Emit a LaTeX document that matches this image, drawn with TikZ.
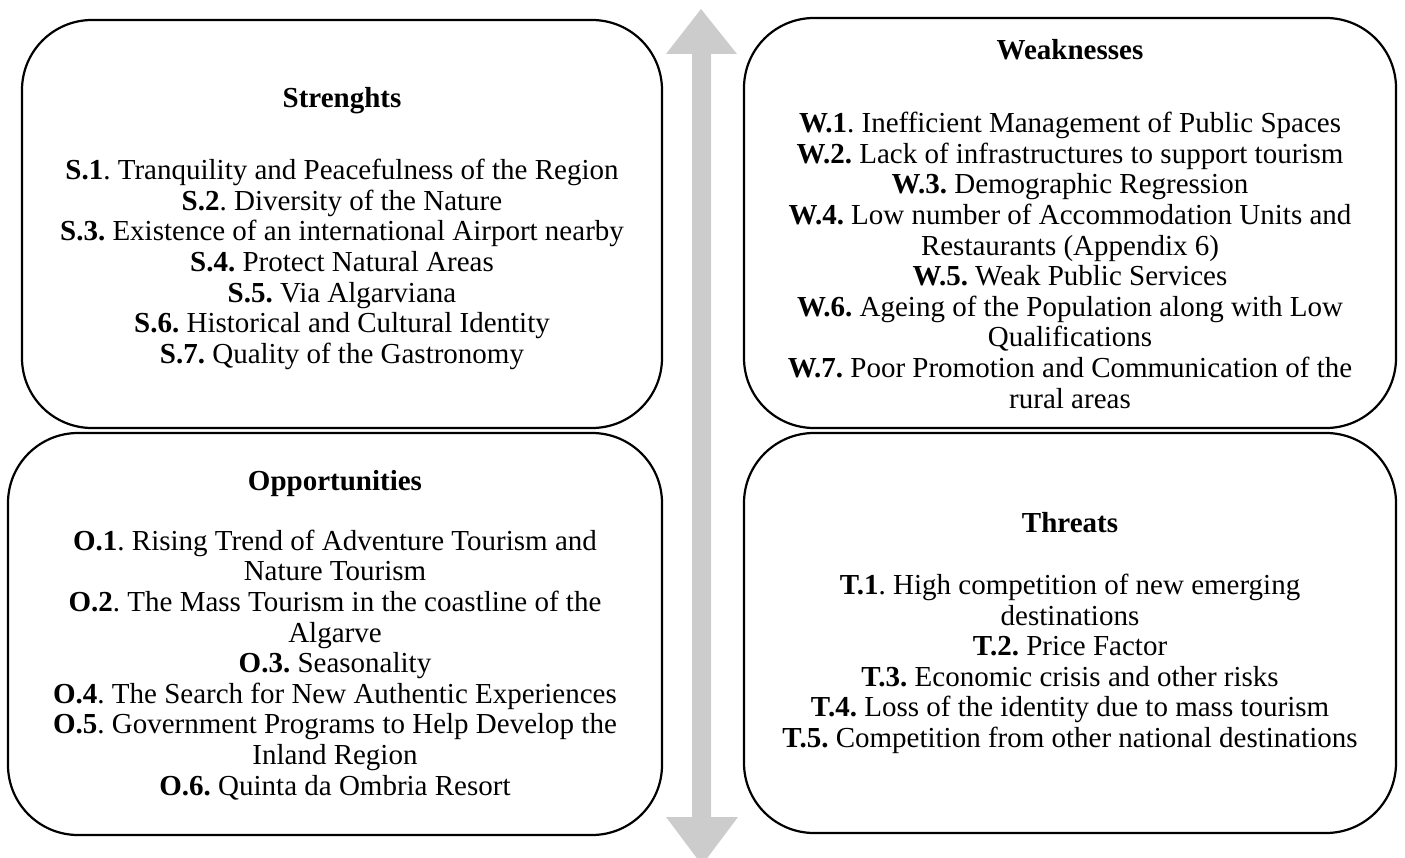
\documentclass[tikz,border=0pt]{standalone}
\usepackage{fontspec}
\setmainfont{Liberation Serif}
\definecolor{axisgray}{RGB}{204,204,204}
\tikzset{
  swot/.style={draw, line width=2.2pt, rounded corners=70pt, inner sep=0pt},
  swottext/.style={align=center, inner sep=0pt, font=\fontsize{29}{30.6}\selectfont\frenchspacing},
}
\begin{document}
\begin{tikzpicture}[x=1pt,y=-1pt]
        \clip (0,0) rectangle (1405,858);
        %% Axis
        \fill[axisgray] (701,9) -- (737,54) -- (711,54) -- (711,817) -- (738,817)
          -- (702,865) -- (666,817) -- (692,817) -- (692,54) -- (666,54) -- cycle;
        %% Boxes
        \node[swot,minimum width=640pt,minimum height=408pt] (S) at (342,224) {};
        \node[swot,minimum width=652pt,minimum height=410pt] (W) at (1070,223) {};
        \node[swot,minimum width=654pt,minimum height=402pt] (O) at (335,634) {};
        \node[swot,minimum width=652pt,minimum height=400pt] (T) at (1070,633) {};
        %% Strenghts
        \node[swottext] (St) at ([yshift=-4.5pt]S.center) {%
          \textbf{Strenghts}\\[41.5pt]
          \textbf{S.1}. Tranquility and Peacefulness of the Region\\
          \textbf{S.2}. Diversity of the Nature\\
          \textbf{S.3.} Existence of an international Airport nearby\\
          \textbf{S.4.} Protect Natural Areas\\
          \textbf{S.5.} Via Algarviana\\
          \textbf{S.6.} Historical and Cultural Identity\\
          \textbf{S.7.} Quality of the Gastronomy};
        %% Weaknesses
        \node[swottext] (Wt) at ([yshift=-1pt]W.center) {%
          \textbf{Weaknesses}\\[42.5pt]
          \textbf{W.1}. Inefficient Management of Public Spaces\\
          \textbf{W.2.} Lack of infrastructures to support tourism\\
          \textbf{W.3.} Demographic Regression\\
          \textbf{W.4.} Low number of Accommodation Units and\\
          Restaurants (Appendix 6)\\
          \textbf{W.5.} Weak Public Services\\
          \textbf{W.6.} Ageing of the Population along with Low\\
          Qualifications\\
          \textbf{W.7.} Poor Promotion and Communication of the\\
          rural areas};
        %% Opportunities
        \node[swottext] (Ot) at ([yshift=-1pt]O.center) {%
          \textbf{Opportunities}\\[29.5pt]
          \textbf{O.1}. Rising Trend of Adventure Tourism and\\
          Nature Tourism\\
          \textbf{O.2}. The Mass Tourism in the coastline of the\\
          Algarve\\
          \textbf{O.3.} Seasonality\\
          \textbf{O.4}. The Search for New Authentic Experiences\\
          \textbf{O.5}. Government Programs to Help Develop the\\
          Inland Region\\
          \textbf{O.6.} Quinta da Ombria Resort};
        %% Threats
        \node[swottext] (Tt) at (T.center) {%
          \textbf{Threats}\\[31.5pt]
          \textbf{T.1}. High competition of new emerging\\
          destinations\\
          \textbf{T.2.} Price Factor\\
          \textbf{T.3.} Economic crisis and other risks\\
          \textbf{T.4.} Loss of the identity due to mass tourism\\
          \textbf{T.5.} Competition from other national destinations};
    \end{tikzpicture}
\end{document}
